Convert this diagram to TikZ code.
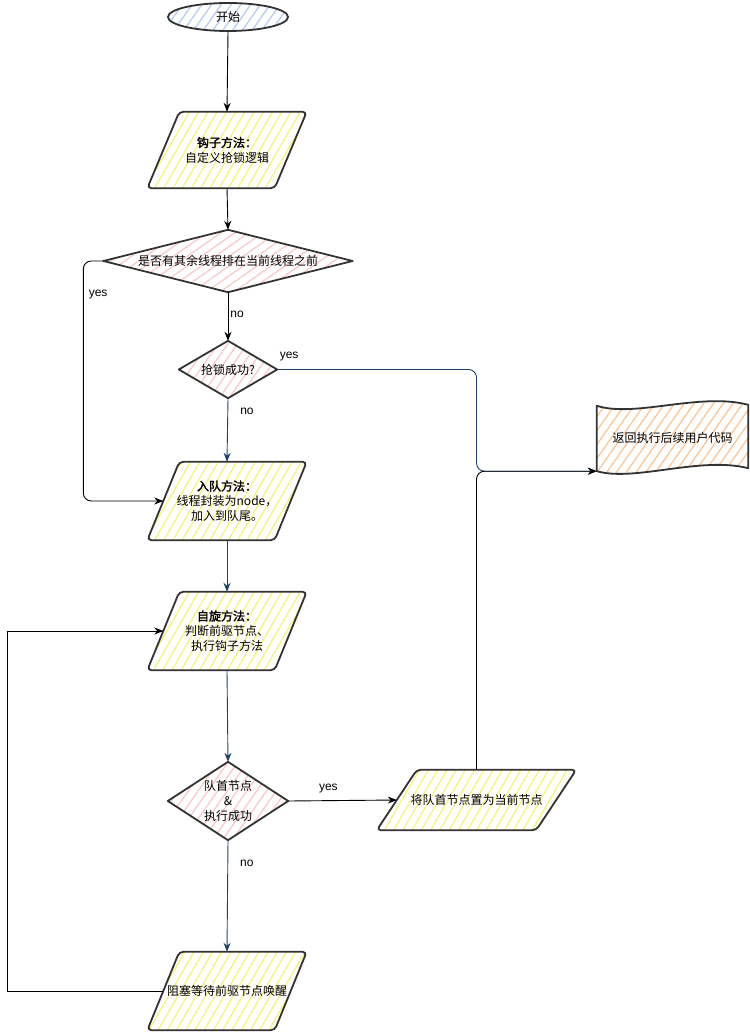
\documentclass[tikz,border=0pt]{standalone}
\usepackage{fontspec}
\setmainfont{Noto Sans CJK SC}[AutoFakeBold=2]
\newfontfamily\latfont{Liberation Sans}
\usetikzlibrary{arrows.meta,patterns.meta,calc,backgrounds,shapes.geometric}
\definecolor{edge}{HTML}{333333}
\definecolor{dblue}{HTML}{1C4370}
\definecolor{hblue}{HTML}{B5CEF0}
\definecolor{hyellow}{HTML}{F4F47C}
\definecolor{hpink}{HTML}{F8CAC8}
\definecolor{horange}{HTML}{FBC696}
\tikzset{
  txt/.style={draw=none, align=center, inner sep=0pt, font=\fontsize{12}{15}\selectfont},
  shapeline/.style={draw=edge, line width=1.8pt, line join=round},
  hatch/.style={pattern={Lines[angle=#1,distance=8pt,line width=1.3pt]}},
  arr/.style={draw=black, line width=0.9pt, -{Stealth[length=9pt,width=7pt]}},
  barr/.style={draw=dblue, line width=0.9pt, -{Stealth[length=9pt,width=7pt]}},
  lbl/.style={font=\latfont\fontsize{12}{14}\selectfont, inner sep=2pt},
}
\newcommand{\drawpara}[3]{%
  \draw[shapeline, hatch=60, pattern color=#3, rounded corners=4pt]
    ($(#1.north west)+(#2,0)$) -- ($(#1.north east)+(#2,0)$) --
    ($(#1.south east)+(-#2,0)$) -- ($(#1.south west)+(-#2,0)$) -- cycle;}
\newcommand{\drawdiam}[2]{%
  \draw[shapeline, hatch=#2, pattern color=hpink]
    (#1.north) -- (#1.east) -- (#1.south) -- (#1.west) -- cycle;}
\begin{document}
\begin{tikzpicture}[x=1pt,y=-1pt]
\useasboundingbox (0,0) rectangle (749,1032);

% nodes
\node[shapeline, ellipse, hatch=55, pattern color=hblue, minimum width=120pt, minimum height=28pt,
      font=\fontsize{12}{14}\selectfont, inner sep=0pt] (start) at (228,17) {开始};
\node[txt, minimum width=127pt, minimum height=76pt] (p1) at (227,150) {\textbf{钩子方法：}\\自定义抢锁逻辑};
\node[txt, minimum width=249pt, minimum height=62pt] (d1) at (228,261) {是否有其余线程排在当前线程之前};
\node[txt, minimum width=98pt, minimum height=57pt] (d2) at (228,369.5) {抢锁成功?};
\node[txt, minimum width=151pt, minimum height=67pt] (doc) at (672.5,437.5) {返回执行后续用户代码};
\node[txt, minimum width=127pt, minimum height=78pt] (p2) at (227,501) {\textbf{入队方法：}\\线程封装为node，\\加入到队尾。};
\node[txt, minimum width=127pt, minimum height=78pt] (p3) at (227,631) {\textbf{自旋方法：}\\判断前驱节点、\\执行钩子方法};
\node[txt, minimum width=120pt, minimum height=78pt] (d3) at (228,801) {队首节点\\\&\\执行成功};
\node[txt, minimum width=159pt, minimum height=60pt] (p4) at (476.5,800) {将队首节点置为当前节点};
\node[txt, minimum width=127pt, minimum height=78pt] (p5) at (227,991) {阻塞等待前驱节点唤醒};

% shapes behind text
\begin{scope}[on background layer]
  \drawpara{p1}{16}{hyellow}
  \drawdiam{d1}{35}
  \drawdiam{d2}{55}
  \drawpara{p2}{16}{hyellow}
  \drawpara{p3}{16}{hyellow}
  \drawdiam{d3}{55}
  \drawpara{p4}{20}{hyellow}
  \drawpara{p5}{16}{hyellow}
  \draw[shapeline, hatch=55, pattern color=horange]
    (doc.south west) -- ($(doc.north west)+(0,2)$)
    .. controls (635,418) and (700,392) .. ($(doc.north east)+(0,1)$)
    -- ($(doc.south east)+(0,-3)$)
    .. controls (700,456) and (635,482) .. (doc.south west) -- cycle;
\end{scope}

% connectors
\draw[arr] (start.south) -- (p1.north);
\draw[arr] (p1.south) -- (d1.north);
\draw[arr] (d1.south) -- node[lbl, right, pos=0.45] {no} (d2.north);
\draw[arr, rounded corners=8pt] (d1.west) -- ++(-20,0) |- node[lbl, pos=0.07, right=3pt] {yes} (p2.west);
\draw[barr, rounded corners=8pt] (d2.east) -| node[lbl, above=6pt, pos=0.03] {yes} (p4.north |- doc.south west) -- (doc.south west);
\draw[barr] (d2.south) -- node[lbl, right=10pt, pos=0.2] {no} (p2.north);
\draw[arr, rounded corners=8pt] (p4.north) |- (doc.south west);
\draw[barr] (p2.south) -- (p3.north);
\draw[barr] (p3.south) -- (d3.north);
\draw[arr] (d3.east) -- node[lbl, above=5pt, pos=0.37] {yes} (p4.west);
\draw[barr] (d3.south) -- node[lbl, right=10pt, pos=0.21] {no} (p5.north);
\draw[arr] (p5.west) -- ++(-156,0) |- (p3.west);
\end{tikzpicture}
\end{document}
